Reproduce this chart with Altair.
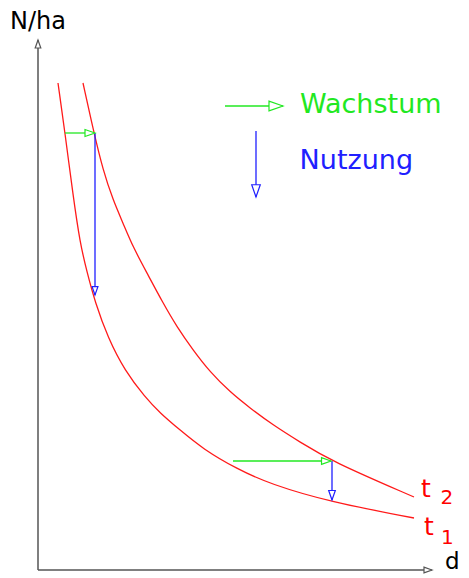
import altair as alt
import pandas as pd

# Curve t1 (lower / earlier stand) and t2 (upper / later stand): d vs N/ha
t1_d = [0.5, 0.675, 0.875, 1.05, 1.225, 1.425, 1.75, 2.175, 2.675, 3.05, 3.55, 4.125, 4.975, 5.8, 7.3, 9.4]
t1_n = [9.74, 8.74, 7.5, 6.54, 5.96, 5.36, 4.64, 3.98, 3.46, 3.14, 2.8, 2.42, 2.02, 1.72, 1.36, 1.04]
t2_d = [1.125, 1.4, 1.625, 1.875, 2.125, 2.375, 2.725, 3.125, 3.475, 3.875, 4.3, 4.8, 5.3, 5.875, 6.55, 7.325, 9.4]
t2_n = [9.74, 8.74, 8.0, 7.4, 6.94, 6.46, 5.94, 5.34, 4.86, 4.4, 3.96, 3.56, 3.24, 2.9, 2.56, 2.18, 1.46]

# Arrows: start (d, n) -> end (d2, n2)
arrow_kind = ["axis", "axis", "grow", "grow", "grow", "use", "use", "use"]
arrow_d = [0.0, 0.0, 0.675, 4.875, 4.675, 1.425, 7.35, 5.45]
arrow_n = [0.0, 0.0, 8.74, 2.18, 9.28, 8.74, 2.18, 8.78]
arrow_d2 = [9.85, 0.0, 1.425, 7.325, 6.125, 1.425, 7.35, 5.45]
arrow_n2 = [0.0, 10.6, 8.74, 2.18, 9.28, 5.5, 1.4, 7.46]
arrow_dir = ["right", "up", "right", "right", "right", "down", "down", "down"]
arrow_head = [64, 64, 100, 90, 196, 70, 90, 150]

# Labels
label_text = ["N/ha", "d", "Wachstum", "Nutzung", "t", "2", "t", "1"]
label_d = [-0.7, 10.175, 6.55, 6.54, 9.575, 10.06, 9.65, 10.075]
label_n = [10.82, 0.02, 9.14, 8.02, 1.46, 1.32, 0.70, 0.52]
label_size = [24, 23, 27, 27, 25, 20, 25, 20]
label_kind = ["axis", "axis", "grow", "use", "curve", "curve", "curve", "curve"]

colors = {"axis": "#555555", "grow": "#22e822", "use": "#2020ff", "curve": "#ff1a1a"}
text_colors = {"axis": "#000000", "grow": "#22e822", "use": "#2020ff", "curve": "#ff0000"}
paths = {
    "right": "M0,0 L-2,-0.7 L-2,0.7 Z",
    "up": "M0,0 L-0.7,2 L0.7,2 Z",
    "down": "M0,0 L-0.7,-2 L0.7,-2 Z",
}

curves = pd.DataFrame(
    {"d": t1_d + t2_d, "n": t1_n + t2_n,
     "series": ["t1"] * len(t1_d) + ["t2"] * len(t2_d)}
)
arrows = pd.DataFrame({
    "d": arrow_d, "n": arrow_n, "d2": arrow_d2, "n2": arrow_n2,
    "col": [colors[k] for k in arrow_kind],
    "path": [paths[k] for k in arrow_dir],
    "head": arrow_head,
    "w": [1.5 if k == "axis" else 1.3 for k in arrow_kind],
})
labels = pd.DataFrame({
    "d": label_d, "n": label_n, "text": label_text, "size": label_size,
    "col": [text_colors[k] for k in label_kind],
})

xs = alt.Scale(domain=[-0.75, 10.575], nice=False, zero=False)
ys = alt.Scale(domain=[-0.08, 11.24], nice=False, zero=False)

curve_layer = alt.Chart(curves).mark_line(
    color="#ff1a1a", strokeWidth=1.3, interpolate="basis"
).encode(
    x=alt.X("d:Q", scale=xs, axis=None),
    y=alt.Y("n:Q", scale=ys, axis=None),
    detail="series:N",
)

rule_layer = alt.Chart(arrows).mark_rule().encode(
    x=alt.X("d:Q", scale=xs, axis=None),
    y=alt.Y("n:Q", scale=ys, axis=None),
    x2="d2:Q",
    y2="n2:Q",
    color=alt.Color("col:N", scale=None),
    strokeWidth=alt.StrokeWidth("w:Q", scale=None),
)

head_layer = alt.Chart(arrows).mark_point(filled=True, opacity=1, strokeWidth=1.2).encode(
    x=alt.X("d2:Q", scale=xs, axis=None),
    y=alt.Y("n2:Q", scale=ys, axis=None),
    shape=alt.Shape("path:N", scale=None),
    size=alt.Size("head:Q", scale=None),
    fill=alt.value("white"),
    stroke=alt.Stroke("col:N", scale=None),
)

text_layer = alt.Chart(labels).mark_text(
    align="left", baseline="alphabetic", font="DejaVu Sans"
).encode(
    x=alt.X("d:Q", scale=xs, axis=None),
    y=alt.Y("n:Q", scale=ys, axis=None),
    text="text:N",
    size=alt.Size("size:Q", scale=None),
    color=alt.Color("col:N", scale=None),
)

chart = alt.layer(curve_layer, rule_layer, head_layer, text_layer).properties(
    width=453, height=566, padding=0, autosize=alt.AutoSizeParams(type="none"),
    background="white",
).configure_view(stroke=None)

chart.save("out.html", embed_options={"renderer": "svg", "actions": False})
